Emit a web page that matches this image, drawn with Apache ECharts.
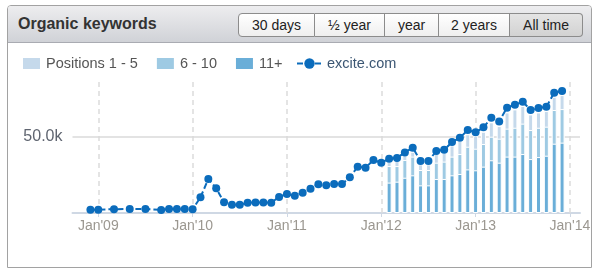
<!DOCTYPE html>
<html>
<head>
<meta charset="utf-8">
<script src="https://cdn.jsdelivr.net/npm/echarts@6/dist/echarts.min.js"></script>
<style>
  html, body { margin:0; padding:0; background:#fff; }
  body { width:598px; height:273px; position:relative; overflow:hidden; font-family:"Liberation Sans", Arial, sans-serif; }
  #card { position:absolute; left:7px; top:5px; width:583px; height:261px; border:1px solid #a2a2a2; border-radius:4px 4px 0 0; background:#fff; }
  #head { position:absolute; left:0; top:0; right:0; height:36px; background:linear-gradient(#ededef, #d0d2d7); border-bottom:1px solid #a9abb2; border-radius:3px 3px 0 0; }
  #title { position:absolute; left:10px; top:8px; font-size:16px; font-weight:bold; color:#333; line-height:20px; }
  #btns { position:absolute; left:230px; top:7px; height:24px; display:flex; }
  .b { height:22px; line-height:22px; border:1px solid #8c8c8c; border-left:none; background:linear-gradient(#ffffff,#efefef); font-size:14px; color:#222; text-align:center; box-sizing:content-box; }
  .b:first-child { border-left:1px solid #8c8c8c; border-radius:4px 0 0 4px; }
  .b:last-child { border-radius:0 4px 4px 0; background:linear-gradient(#e4e4e4,#d2d2d2); }
  #chart { position:absolute; left:0; top:0; width:598px; height:273px; }
</style>
</head>
<body>
<div id="card">
  <div id="head">
    <div id="title">Organic keywords</div>
    <div id="btns">
      <div class="b" style="width:75px">30 days</div>
      <div class="b" style="width:69px">½ year</div>
      <div class="b" style="width:53px">year</div>
      <div class="b" style="width:70px">2 years</div>
      <div class="b" style="width:72px">All time</div>
    </div>
  </div>
</div>
<div id="chart"></div>
<script>
// ---- data ----
const seriesNames = ["Positions 1 - 5", "6 - 10", "11+", "excite.com"];
const lineMonths = ["2008-12","2009-01","2009-03","2009-05","2009-07","2009-09","2009-10","2009-11","2009-12",
  "2010-01","2010-02","2010-03","2010-04","2010-05","2010-06","2010-07","2010-08","2010-09","2010-10","2010-11","2010-12",
  "2011-01","2011-02","2011-03","2011-04","2011-05","2011-06","2011-07","2011-08","2011-09","2011-10","2011-11","2011-12",
  "2012-01","2012-02","2012-03","2012-04","2012-05","2012-06","2012-07","2012-08","2012-09","2012-10","2012-11","2012-12",
  "2013-01","2013-02","2013-03","2013-04","2013-05","2013-06","2013-07","2013-08","2013-09","2013-10","2013-11","2013-12"];
const lineValues = [2200,2200,2500,2700,2600,2000,2600,2600,2600,
  2400,10300,22400,16300,7000,5500,5500,6800,6900,6900,6800,10600,
  12500,11400,13400,16000,18900,18200,19100,19100,23500,30500,29800,34900,
  33100,35700,36200,39900,43000,34200,34200,40800,41600,46700,49500,54600,
  53100,56400,62700,60300,69300,71300,73200,67800,69100,69900,79100,80300];
const barMonths = ["2012-02","2012-03","2012-04","2012-05","2012-06","2012-07","2012-08","2012-09","2012-10","2012-11","2012-12",
  "2013-01","2013-02","2013-03","2013-04","2013-05","2013-06","2013-07","2013-08","2013-09","2013-10","2013-11","2013-12"];
const pos11plus = [20000,20600,23200,24800,18200,18200,22400,22400,24800,25700,28700,
  28100,30500,34700,33100,37100,37100,38800,35500,36800,37700,45600,46300];
const pos6to10 = [10900,10300,11700,12300,10100,10100,10700,11400,12300,13100,14900,
  14200,14900,15500,15800,18400,19000,20000,19100,19300,19100,22200,22100];
const pos1to5 = [2900,4000,3000,3200,3700,3700,6200,5900,7400,8600,8200,
  8400,8100,9500,8300,10700,12100,11600,10300,10100,10300,8700,9200];
const xTickMonths = ["2009-01","2010-01","2011-01","2012-01","2013-01","2014-01"];
const xTickLabels = ["Jan'09","Jan'10","Jan'11","Jan'12","Jan'13","Jan'14"];
const yTickValues = [50000];

// month index relative to Jan 2009
function mIdx(s){ const p = s.split('-'); return (parseInt(p[0]) - 2009) * 12 + (parseInt(p[1]) - 1); }
const xTicks = xTickMonths.map(mIdx);
const labelMap = {}; xTicks.forEach((v,i)=>labelMap[v]=xTickLabels[i]);

// stacked tops (drawn as overlapping bars, tallest behind)
const top11 = pos11plus.slice();
const top6 = pos11plus.map((v,i)=>v + pos6to10[i]);
const top1 = pos11plus.map((v,i)=>v + pos6to10[i] + pos1to5[i]);

const cLight = '#c5d9eb', cMid = '#9ecae3', cDark = '#6aaed8', cLine = '#0b6cbc';
function barSeries(name, color, tops, z){
  return { type:'bar', name:name, color:color, barWidth:5, barGap:'-100%', z:z,
    itemStyle:{ color:color, borderColor:'#fff', borderWidth:1 },
    data: barMonths.map((m,i)=>[mIdx(m), tops[i]]) };
}

const chart = echarts.init(document.getElementById('chart'), null, {renderer:'canvas'});
const s0 = barSeries(seriesNames[0], cLight, top1, 2);
s0.markLine = { silent:true, symbol:'none', label:{show:false}, z:1,
  data: xTicks.map(v=>({ xAxis:v, lineStyle:{ color:'#dcdcdc', type:[5,4], width:1.5 } }))
    .concat(yTickValues.map(v=>({ yAxis:v, lineStyle:{ color:'#dadada', type:'solid', width:1.5 } }))) };
chart.setOption({
  animation:false,
  backgroundColor:'transparent',
  textStyle:{ fontFamily:'"Liberation Sans", Arial, sans-serif' },
  legend:[{
    left:16, top:51, itemWidth:19, itemHeight:13, itemGap:17, itemTextGap:7,
    textStyle:{ fontSize:14.5, color:'#555' },
    data:[
      {name:seriesNames[0], icon:'rect'},
      {name:seriesNames[1], icon:'rect'},
      {name:seriesNames[2], icon:'rect'}
    ]
  },{
    left:291, top:51, itemWidth:25, itemHeight:13, itemTextGap:7,
    textStyle:{ fontSize:14.5, color:'#3b5673' },
    data:[ {name:seriesNames[3]} ]
  }],
  grid:{ left:72.5, right:18, top:79, bottom:60 },
  xAxis:{
    type:'value', min:-3.28, max:61.28,
    axisLine:{ show:true, lineStyle:{ color:'#cfd8e4', width:2 } },
    axisTick:{ show:true, customValues:xTicks, length:4, lineStyle:{ color:'#cfd8e4', width:1 } },
    axisLabel:{ customValues:xTicks, formatter:v=>labelMap[v]||'', color:'#9b9790', fontSize:14, margin:6 },
    splitLine:{ show:false }
  },
  yAxis:{
    type:'value', min:0, max:88200,
    axisLine:{show:false}, axisTick:{show:false}, splitLine:{show:false},
    axisLabel:{ customValues:yTickValues, formatter:v=>(v/1000).toFixed(1)+'k', color:'#5f6570', fontSize:16, margin:10 }
  },
  series:[
    s0,
    barSeries(seriesNames[1], cMid, top6, 3),
    barSeries(seriesNames[2], cDark, top11, 4),
    { name:seriesNames[3], type:'line', z:5, color:cLine,
      symbol:'circle', symbolSize:8, showSymbol:true,
      lineStyle:{ color:cLine, width:2, type:[6,3] },
      itemStyle:{ color:cLine },
      data: lineMonths.map((m,i)=>[mIdx(m), lineValues[i]]) }
  ]
});
</script>
</body>
</html>
